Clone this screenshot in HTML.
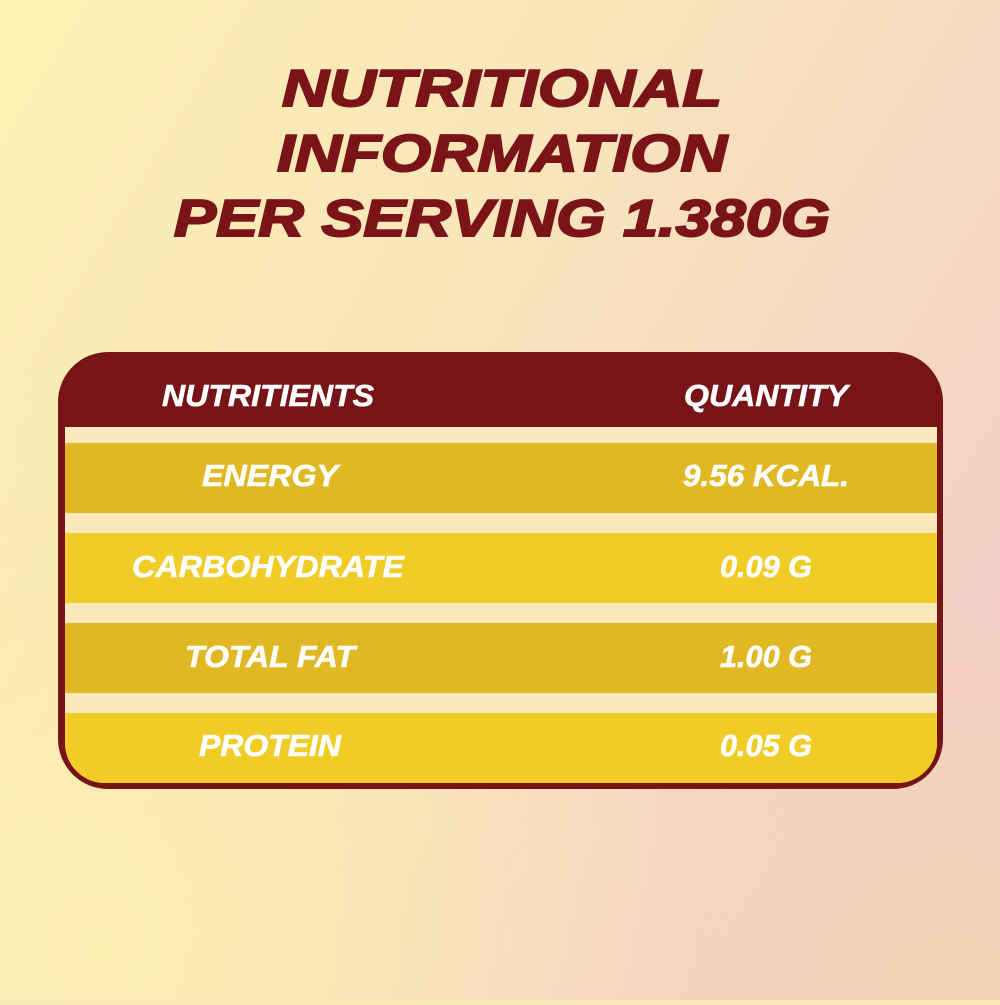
<!DOCTYPE html>
<html><head><meta charset="utf-8"><style>
html,body{margin:0;padding:0}
body{width:1000px;height:1000px;overflow:hidden;background:#f9eab4}
</style></head><body>
<svg width="1000" height="1000" viewBox="0 0 1000 1000" xmlns="http://www.w3.org/2000/svg">
<defs>
<linearGradient id="bg" x1="0" y1="0" x2="1" y2="0.6">
<stop offset="0" stop-color="#fcf1b2"/>
<stop offset="0.45" stop-color="#f9e6bb"/>
<stop offset="1" stop-color="#f5cfc6"/>
</linearGradient>
<radialGradient id="bl" cx="0.1" cy="0.95" r="0.6">
<stop offset="0" stop-color="#fcf0b0" stop-opacity="0.9"/>
<stop offset="1" stop-color="#fcf0b0" stop-opacity="0"/>
</radialGradient>
<radialGradient id="br" cx="0.95" cy="1" r="0.4">
<stop offset="0" stop-color="#f5d6b4" stop-opacity="0.9"/>
<stop offset="1" stop-color="#f5d6b4" stop-opacity="0"/>
</radialGradient>
<clipPath id="inner"><path d="M65,427 H937 V743 A40,40 0 0 1 897,783 H105 A40,40 0 0 1 65,743 Z"/></clipPath>
</defs>
<rect width="1000" height="1000" fill="url(#bg)"/>
<rect width="1000" height="1000" fill="url(#bl)"/>
<rect width="1000" height="1000" fill="url(#br)"/>
<g font-family="Liberation Sans, sans-serif" font-weight="bold" font-style="italic" fill="#7a1418" stroke="#7a1418" stroke-width="2" text-anchor="middle">
<text x="502" y="106" font-size="52" textLength="440" lengthAdjust="spacingAndGlyphs">NUTRITIONAL</text>
<text x="502" y="171" font-size="52" textLength="450" lengthAdjust="spacingAndGlyphs">INFORMATION</text>
<text x="502" y="236" font-size="52" textLength="656" lengthAdjust="spacingAndGlyphs">PER SERVING 1.380G</text>
</g>
<path d="M108,352 H893 A50,50 0 0 1 943,402 V739 A50,50 0 0 1 893,789 H108 A50,50 0 0 1 58,739 V402 A50,50 0 0 1 108,352 Z" fill="#771418"/>
<g clip-path="url(#inner)">
<rect x="65" y="427" width="872" height="360" fill="#fae9bc"/>
<rect x="65" y="443" width="872" height="70" fill="#e0b823"/>
<rect x="65" y="533" width="872" height="70" fill="#f0cc27"/>
<rect x="65" y="623" width="872" height="70" fill="#e0b823"/>
<rect x="65" y="713" width="872" height="72" fill="#f0cc27"/>
</g>
<g font-family="Liberation Sans, sans-serif" font-weight="bold" font-style="italic" fill="#ffffff" stroke="#ffffff" stroke-width="0.6" text-anchor="middle" font-size="31">
<text x="268" y="406" textLength="212" lengthAdjust="spacingAndGlyphs">NUTRITIENTS</text>
<text x="766" y="406" textLength="164" lengthAdjust="spacingAndGlyphs">QUANTITY</text>
<text x="270" y="486" textLength="136" lengthAdjust="spacingAndGlyphs">ENERGY</text>
<text x="766" y="486" textLength="166" lengthAdjust="spacingAndGlyphs">9.56 KCAL.</text>
<text x="268" y="577" textLength="272" lengthAdjust="spacingAndGlyphs">CARBOHYDRATE</text>
<text x="766" y="577" textLength="92" lengthAdjust="spacingAndGlyphs">0.09 G</text>
<text x="270" y="667" textLength="170" lengthAdjust="spacingAndGlyphs">TOTAL FAT</text>
<text x="766" y="667" textLength="92" lengthAdjust="spacingAndGlyphs">1.00 G</text>
<text x="270" y="756" textLength="142" lengthAdjust="spacingAndGlyphs">PROTEIN</text>
<text x="766" y="756" textLength="92" lengthAdjust="spacingAndGlyphs">0.05 G</text>
</g>
</svg>
</body></html>
